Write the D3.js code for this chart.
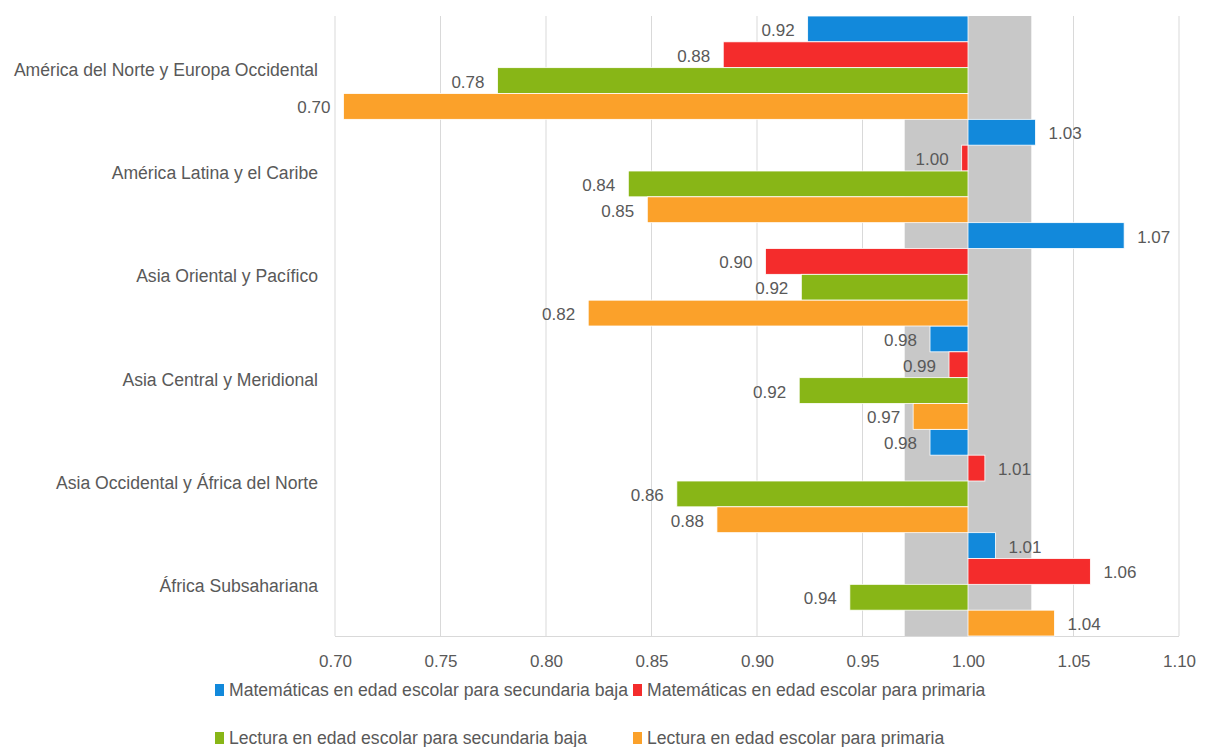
<!DOCTYPE html>
<html><head><meta charset="utf-8">
<script src="https://cdn.jsdelivr.net/npm/d3@7"></script>
<style>
body{margin:0;background:#fff;}
text{font-family:"Liberation Sans",Arial,sans-serif;fill:#595959;}
</style></head>
<body><svg id="c" width="1210" height="747"></svg>
<script>
const categories = ["América del Norte y Europa Occidental","América Latina y el Caribe","Asia Oriental y Pacífico","Asia Central y Meridional","Asia Occidental y África del Norte","África Subsahariana"];
const seriesNames = ["Matemáticas en edad escolar para secundaria baja","Matemáticas en edad escolar para primaria","Lectura en edad escolar para secundaria baja","Lectura en edad escolar para primaria"];
const mathSec = [0.924,1.032,1.074,0.982,0.982,1.013];
const mathPri = [0.884,0.997,0.904,0.991,1.008,1.058];
const readSec = [0.777,0.839,0.921,0.920,0.862,0.944];
const readPri = [0.704,0.848,0.820,0.974,0.881,1.041];
const xTicks = [0.70,0.75,0.80,0.85,0.90,0.95,1.00,1.05,1.10];
const parityBand = [0.97,1.03];
const baseline = 1.00;
const colors = ["#1289db","#f42c2c","#88b617","#fba12a"];

const series = [mathSec, mathPri, readSec, readPri];
const svg = d3.select("#c");
const x = d3.scaleLinear().domain([0.70,1.10]).range([335,1179]);
const y = d3.scaleBand().domain(categories).range([16,636]).padding(0);
const ys = d3.scaleBand().domain(d3.range(4)).range([0,y.bandwidth()]).padding(0);

// gridlines
svg.append("g").selectAll("line").data(xTicks).join("line")
  .attr("x1",d=>x(d)).attr("x2",d=>x(d)).attr("y1",16).attr("y2",636)
  .attr("stroke","#d9d9d9").attr("stroke-width",1);
// parity band
svg.append("rect").attr("x",x(parityBand[0])).attr("width",x(parityBand[1])-x(parityBand[0]))
  .attr("y",16).attr("height",620).attr("fill","#c8c8c8");
// x axis line
svg.append("line").attr("x1",335).attr("x2",1179).attr("y1",636.5).attr("y2",636.5).attr("stroke","#d9d9d9");

const xAxis = d3.axisBottom(x).tickValues(xTicks).tickFormat(d3.format(".2f")).tickSize(0).tickPadding(19);
const ax = svg.append("g").attr("transform","translate(0,636)").call(xAxis);
ax.select(".domain").remove();
ax.selectAll("text").attr("font-size",17).style("font-family",null);

// category labels
svg.append("g").selectAll("text").data(categories).join("text")
  .attr("x",318).attr("y",d=>y(d)+y.bandwidth()/2+2).attr("dy","0.35em")
  .attr("text-anchor","end").attr("font-size",17.6).text(d=>d);

const fmt = d3.format(".2f");
series.forEach((vals,si)=>{
  const g = svg.append("g");
  const rows = vals.map((v,i)=>({v,c:categories[i]}));
  g.selectAll("rect").data(rows).join("rect")
    .attr("x",d=>Math.min(x(d.v),x(baseline)))
    .attr("width",d=>Math.abs(x(d.v)-x(baseline)))
    .attr("y",d=>y(d.c)+ys(si)).attr("height",ys.bandwidth())
    .attr("fill",colors[si]).attr("stroke","#fff").attr("stroke-width",0.8);
  g.selectAll("text").data(rows).join("text")
    .attr("x",d=>d.v<baseline? x(d.v)-13 : x(d.v)+13)
    .attr("text-anchor",d=>d.v<baseline?"end":"start")
    .attr("y",d=>y(d.c)+ys(si)+ys.bandwidth()/2+1).attr("dy","0.35em")
    .attr("font-size",17).text(d=>fmt(d.v));
});

// legend
const legPos = [[215,690],[633,690],[215,738],[633,738]];
const leg = svg.append("g");
seriesNames.forEach((n,i)=>{
  leg.append("rect").attr("x",legPos[i][0]).attr("y",legPos[i][1]-6).attr("width",9).attr("height",12).attr("fill",colors[i]);
  leg.append("text").attr("x",legPos[i][0]+14).attr("y",legPos[i][1]).attr("dy","0.35em").attr("font-size",17.6).text(n);
});
</script></body></html>
